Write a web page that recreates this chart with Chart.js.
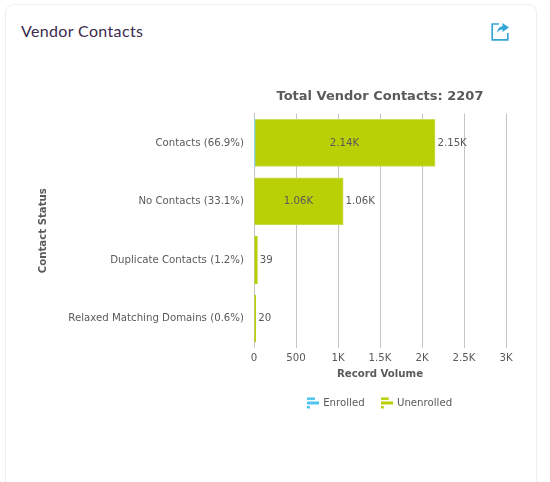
<!DOCTYPE html>
<html><head><meta charset="utf-8">
<script src="https://cdn.jsdelivr.net/npm/chart.js@4"></script>
<style>
html,body{margin:0;padding:0;background:#fff;width:550px;height:482px;overflow:hidden}
#card{position:absolute;left:5px;top:4px;width:532px;height:490px;border:1px solid #efefef;border-radius:9px;box-sizing:border-box;box-shadow:0 0 2px rgba(0,0,0,.04)}
#head{position:absolute;left:21px;top:21px;font:16px/20px Lato,"Noto Sans",sans-serif;color:#3a2a4d;letter-spacing:.35px}
#icon{position:absolute;left:491px;top:22px}
#wrap{position:absolute;left:0;top:0;width:550px;height:482px}
</style></head><body>
<div id="card"></div>
<div id="head">Vendor Contacts</div>
<svg id="icon" width="19" height="19" viewBox="0 0 19 19"><path d="M8 2H1.2V17.8H16.8V11" fill="none" stroke="#36a6d6" stroke-width="1.7"/><path d="M11.5 1L18 5.6L11.5 10V7.4C9 7.4 7.2 8.6 6 11C6.2 7.6 8 4.6 11.5 4.2Z" fill="#36a6d6"/></svg>
<div id="wrap"><canvas id="c"></canvas></div>
<script>
const categories=["Contacts (66.9%)","No Contacts (33.1%)","Duplicate Contacts (1.2%)","Relaxed Matching Domains (0.6%)"];
const enrolled=[10,0,0,0];
const unenrolled=[2144,1060,39,20];
const xTicks=[0,500,1000,1500,2000,2500,3000];
const chartTitle="Total Vendor Contacts: 2207";
const FONT='"DejaVu Sans",sans-serif';
const TXT='#5a5a5a';
const fmt=v=>{if(v<1000)return String(v);const k=v/1000;return (Number.isInteger(k)||(k*2)%1===0?String(k):k.toFixed(2))+'K';};
function icon(col){const c=document.createElement('canvas');c.width=12;c.height=12;const g=c.getContext('2d');g.fillStyle=col;
 g.fillRect(0,0.5,8,2.5);g.fillRect(0,4.5,12,3);g.fillRect(0,9,3,2.5);return c;}
const icons=[icon('#4fc3f0'),icon('#b9cf06')];
const labelsPlugin={id:'vals',afterDatasetsDraw(ch){const g=ch.ctx;g.save();g.font='10.2px '+FONT;g.fillStyle=TXT;g.textBaseline='middle';
 const m1=ch.getDatasetMeta(1).data,x0=ch.scales.x.getPixelForValue(0);
 categories.forEach((_,i)=>{const b=m1[i];
  if(unenrolled[i]>=1000){g.textAlign='center';g.fillText(fmt(unenrolled[i]),(x0+b.x)/2,b.y);}
  g.textAlign='left';g.fillText(fmt(enrolled[i]+unenrolled[i]),b.x+2.5,b.y);
 });g.restore();}};
new Chart(document.getElementById('c'),{type:'bar',
 data:{labels:categories,datasets:[
  {label:'Enrolled',data:enrolled,backgroundColor:'#8fd0ea',borderWidth:0,inflateAmount:c=>c.parsed&&c.parsed.x>0?0.5:0},
  {label:'Unenrolled',data:unenrolled,backgroundColor:'#b9cf06',borderColor:c=>c.parsed&&c.parsed.x<100?'#bcd110':'#cfdd5c',borderWidth:1,inflateAmount:0.5}]},
 plugins:[labelsPlugin],
 options:{indexAxis:'y',responsive:true,maintainAspectRatio:false,animation:false,
  layout:{padding:{left:37,right:44,top:0,bottom:64}},
  datasets:{bar:{categoryPercentage:.8,barPercentage:1}},
  scales:{
   x:{stacked:true,min:0,max:3000,afterBuildTicks(a){a.ticks=xTicks.map(v=>({value:v}));},
    afterFit(a){a.height=33;},
    border:{display:false},grid:{color:'#c4c4c4',lineWidth:1,drawTicks:false},
    ticks:{color:TXT,font:{family:FONT,size:10.2},padding:4,maxRotation:0,callback:v=>fmt(v)},
    title:{display:true,text:'Record Volume',color:TXT,font:{family:FONT,size:10.2,weight:'bold'},padding:{top:2,bottom:0}}},
   y:{stacked:true,afterFit(a){a.width=217;},
    border:{display:true,color:'#c4c4c4'},grid:{display:false,drawTicks:false},
    ticks:{color:TXT,font:{family:FONT,size:10.2},padding:10},
    title:{display:true,text:'Contact Status',color:TXT,font:{family:FONT,size:10.2,weight:'bold'},padding:{top:0,bottom:0}}}},
  plugins:{
   tooltip:{enabled:false},
   title:{display:true,text:chartTitle,color:TXT,fullSize:false,font:{family:FONT,size:13,weight:'bold'},padding:{top:89,bottom:9}},
   legend:{position:'bottom',fullSize:false,labels:{color:TXT,font:{family:FONT,size:10.2},usePointStyle:true,boxWidth:12,padding:17,
     generateLabels(ch){return ch.data.datasets.map((d,i)=>({text:d.label,fillStyle:d.backgroundColor,strokeStyle:d.backgroundColor,lineWidth:0,fontColor:TXT,pointStyle:icons[i],datasetIndex:i,hidden:false}));}}}
  }}});
</script></body></html>
